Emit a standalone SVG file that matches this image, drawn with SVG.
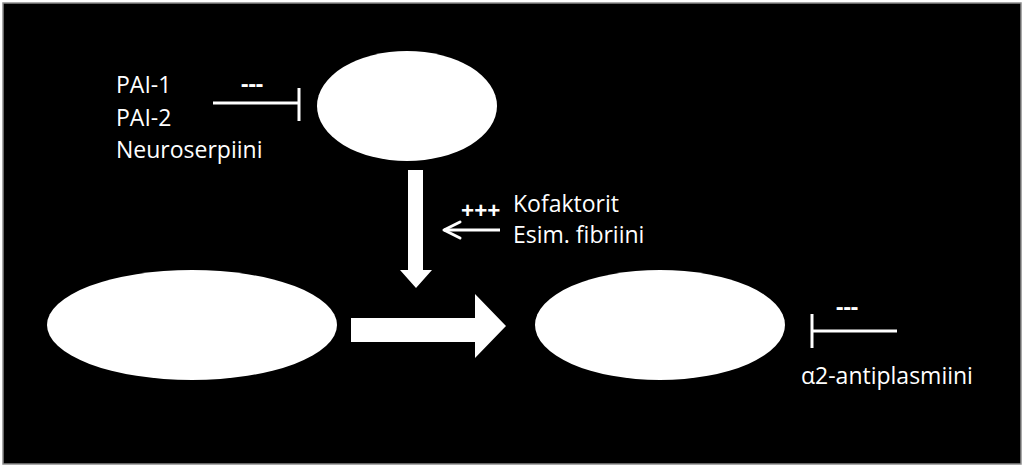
<svg xmlns="http://www.w3.org/2000/svg" width="1024" height="467" viewBox="0 0 1024 467">
  <style>
    .node { fill: #ffffff; }
    .lbl { font-family: "Open Sans", "Liberation Sans", sans-serif; font-size: 23px; fill: #ffffff; }
    .sign { font-family: "Open Sans", "Liberation Sans", sans-serif; font-size: 23px; font-weight: bold; fill: #ffffff; }
    .line { stroke: #ffffff; stroke-width: 3; fill: none; }
    .block { fill: #ffffff; }
  </style>
  <rect x="0" y="0" width="1024" height="467" fill="#ffffff"/>
  <rect x="3" y="3" width="1018" height="461" fill="#000000" stroke="#8c8c8c" stroke-width="1.5"/>

  <g id="node-top">
    <ellipse class="node" cx="407" cy="106" rx="90" ry="55"/>
  </g>
  <g id="node-left">
    <ellipse class="node" cx="192" cy="325" rx="145" ry="55"/>
  </g>
  <g id="node-right">
    <ellipse class="node" cx="660" cy="325" rx="125" ry="55"/>
  </g>

  <g id="inhibitors-top">
    <text class="lbl" x="116" y="93">PAI-1</text>
    <text class="lbl" x="116" y="126">PAI-2</text>
    <text class="lbl" x="116" y="158">Neuroserpiini</text>
  </g>
  <g id="cofactors">
    <text class="lbl" x="513" y="212">Kofaktorit</text>
    <text class="lbl" x="513" y="243">Esim. fibriini</text>
  </g>
  <g id="inhibitor-right">
    <text class="lbl" x="801" y="384">α2-antiplasmiini</text>
  </g>

  <g id="connectors">
    <!-- PAI inhibition -->
    <line class="line" x1="213" y1="103" x2="299" y2="103"/>
    <line class="line" x1="299" y1="88" x2="299" y2="121"/>
    <text class="sign" x="241" y="92">---</text>
    <!-- down block arrow -->
    <polygon class="block" points="408,170 423,170 423,270 432,270 416,288 400,270 408,270"/>
    <!-- cofactor arrow -->
    <line class="line" x1="444" y1="230" x2="500" y2="230"/>
    <polyline class="line" points="460,222 444,230 460,238" stroke-linecap="round" stroke-linejoin="round"/>
    <text class="sign" x="461" y="219">+++</text>
    <!-- right block arrow -->
    <polygon class="block" points="351,318 475,318 475,294 506,326 475,358 475,342 351,342"/>
    <!-- antiplasmin inhibition -->
    <line class="line" x1="812" y1="331" x2="897" y2="331"/>
    <line class="line" x1="812" y1="314" x2="812" y2="348"/>
    <text class="sign" x="836" y="315">---</text>
  </g>
</svg>
